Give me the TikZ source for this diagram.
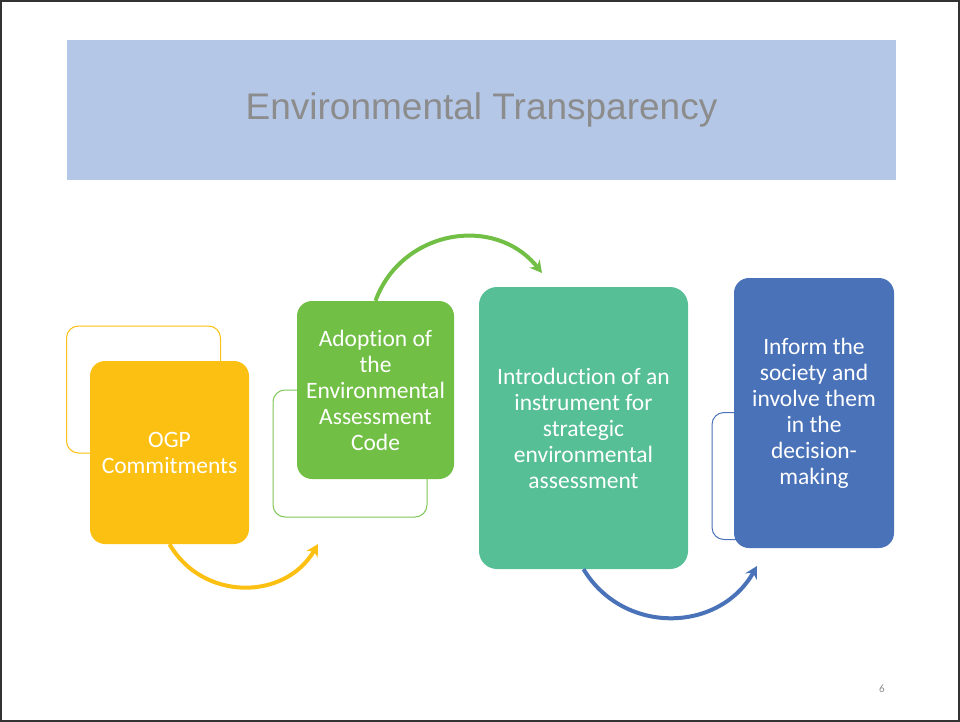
\documentclass[tikz,border=0pt]{standalone}
\usepackage{fontspec}
\setmainfont{Carlito}[Ligatures={NoCommon}]
\newfontfamily\titlefont{Liberation Sans}
\usetikzlibrary{%
  arrows.meta%
}

\definecolor{ogpgold}{HTML}{FBC012}
\definecolor{codegreen}{HTML}{71BF44}
\definecolor{instrteal}{HTML}{56BF96}
\definecolor{informblue}{HTML}{4A72B8}
\definecolor{titleblue}{HTML}{B4C7E7}
\definecolor{titlegray}{HTML}{8C8C8C}

\tikzset{
  stepbox/.style={rectangle, rounded corners=15pt, align=center, text=white,
    inner sep=0pt, font=\fontsize{23.5}{26}\selectfont},
  backbox/.style={rectangle, rounded corners=12pt, line width=1pt,
    minimum width=154pt, minimum height=127pt},
  flow/.style={line width=4pt, -{Stealth[length=12pt,width=13pt]}}
}

\begin{document}
\begin{tikzpicture}[x=1pt,y=-1pt]
    \useasboundingbox (0,0) rectangle (960,722);
    \draw [line width=2pt,black!80] (1,1) rectangle (959,721);
    % title
    \node (titlebar) [fill=titleblue,minimum width=829pt,minimum height=140pt,inner sep=0pt]
      at (481.5,110) {};
    \node (title) [text=titlegray,font=\titlefont\fontsize{37}{40}\selectfont] at (titlebar) {Environmental Transparency};
    % outlines behind the steps
    \node (back1) [backbox,draw=ogpgold] at (143.5,389.5) {};
    \node (back2) [backbox,draw=codegreen!90!white] at (350,453.5) {};
    \node (back4) [backbox,draw=informblue] at (789,476) {};
    % steps
    \node (ogp) [stepbox,fill=ogpgold,minimum width=159pt,minimum height=183pt]
      at (169.5,452.5) {OGP\\Commitments};
    \node (code) [stepbox,fill=codegreen,minimum width=157pt,minimum height=178pt]
      at (375.5,390) {Adoption of\\the\\Environmental\\Assessment\\Code};
    \node (instr) [stepbox,fill=instrteal,rounded corners=18pt,minimum width=209pt,minimum height=282pt]
      at (583.5,428) {Introduction of an\\instrument for\\strategic\\environmental\\assessment};
    \node (inform) [stepbox,fill=informblue,minimum width=160pt,minimum height=270pt]
      at (814,413) {Inform the\\society and\\involve them\\in the\\decision-\\making};
    % arrows
    \coordinate (tipA) at (318,544);
    \coordinate (tipB) at (542,273);
    \coordinate (tipC) at (757,566);
    \draw [flow,draw=ogpgold] (ogp.south) .. controls +(33,57) and +(-33,57) .. (tipA);
    \draw [flow,draw=codegreen] (code.north) .. controls +(26,-71) and +(-47,-59) .. (tipB);
    \draw [flow,draw=informblue] (instr.south) .. controls +(40,66) and +(-38,67) .. (tipC);
    \node (pagenum) [text=titlegray,font=\fontsize{11}{13}\selectfont] at (882,689) {6};
  \end{tikzpicture}
\end{document}
